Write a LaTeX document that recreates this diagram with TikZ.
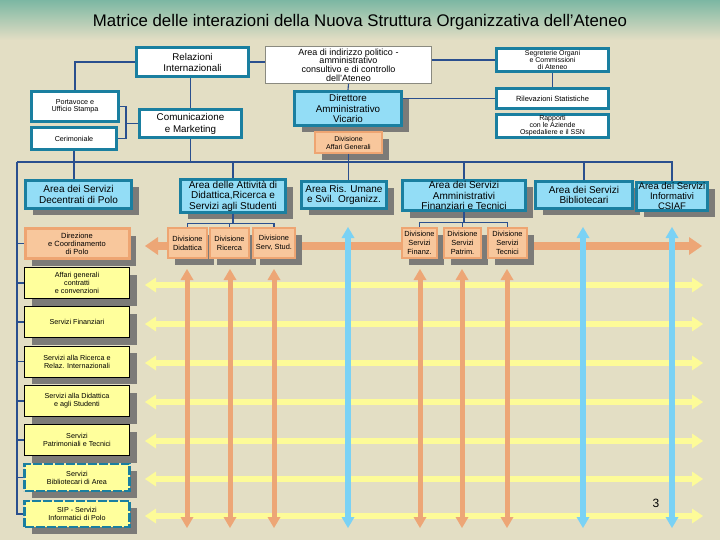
\documentclass[tikz,border=0pt]{standalone}
\usepackage{fontspec}
\setmainfont{Liberation Sans}
\usetikzlibrary{arrows.meta,calc,shadows}
\definecolor{MtBeige}{HTML}{E3DEC4}
\definecolor{MtTealTop}{HTML}{7CB7A3}
\definecolor{MtTeal}{HTML}{1A7FA0}
\definecolor{MtSky}{HTML}{93DDF6}
\definecolor{MtOrange}{HTML}{F8C79C}
\definecolor{MtOrangeEdge}{HTML}{EEA572}
\definecolor{MtArrowOr}{HTML}{EDA676}
\definecolor{MtYellow}{HTML}{FFFF9C}
\definecolor{MtArrowYe}{HTML}{FDFB98}
\definecolor{MtArrowBl}{HTML}{7AD2F5}
\definecolor{MtShadow}{HTML}{7C7B78}
\definecolor{MtWire}{HTML}{2A4F8E}
\definecolor{MtThin}{HTML}{8A8A80}
\tikzset{
  wire/.style={draw=MtWire,line width=1.1pt},
  shadowed/.style={drop shadow={shadow xshift=7pt,shadow yshift=-7pt,fill=MtShadow,opacity=1}},
  office/.style={draw=MtTeal,line width=3pt,fill=white,align=center,inner sep=1pt,text=black},
  board/.style={draw=MtThin,line width=0.9pt,fill=white,align=center,inner sep=1pt},
  areabox/.style={office,fill=MtSky,shadowed,font=\fontsize{10}{10.5}\selectfont},
  divbox/.style={draw=MtOrangeEdge,line width=2pt,fill=MtOrange,align=center,inner sep=0.5pt,
                 shadowed,font=\fontsize{7.4}{9}\selectfont},
  polobox/.style={draw=black,line width=0.8pt,fill=MtYellow,align=center,inner sep=1pt,
                  shadowed,minimum width=105pt,font=\fontsize{7.2}{8}\selectfont},
  polodash/.style={polobox,draw=MtTeal,line width=2.4pt,dash pattern=on 9pt off 2pt},
  yflow/.style={{Triangle[length=11pt,width=15pt,line width=0pt]}-{Triangle[length=11pt,width=15pt,line width=0pt]},
                draw=MtArrowYe,line width=6pt},
  oflow/.style={{Triangle[length=11pt,width=13pt,line width=0pt]}-{Triangle[length=11pt,width=13pt,line width=0pt]},
                draw=MtArrowOr,line width=5pt},
  bflow/.style={oflow,draw=MtArrowBl,line width=6pt},
  obig/.style={{Triangle[length=13pt,width=18pt,line width=0pt]}-{Triangle[length=13pt,width=18pt,line width=0pt]},
               draw=MtArrowOr,line width=8pt},
}

\begin{document}
\begin{tikzpicture}[x=1pt,y=-1pt]
  \useasboundingbox (0,0) rectangle (720,540);
  \fill[MtBeige] (0,0) rectangle (720,540);
  \shade[top color=MtTealTop,bottom color=MtBeige] (0,0) rectangle (720,40);
  \node[font=\fontsize{16.8}{19}\selectfont] (title) at (360,22)
    {Matrice delle interazioni della Nuova Struttura Organizzativa dell’Ateneo};

  % the matrix of interactions
  \coordinate (oL) at (145,246); \coordinate (oR) at (702,246);
  \draw[obig] (oL) -- (oR);
  \foreach \y [count=\i] in {285,324,363,402,441,479,516} {
    \coordinate (yl\i) at (145,\y); \coordinate (yr\i) at (703,\y);
    \draw[yflow] (yl\i) -- (yr\i);
  }
  \foreach \x [count=\i] in {187,230,274,420,462,507} {
    \coordinate (ot\i) at (\x,269); \coordinate (ob\i) at (\x,528);
    \draw[oflow] (ot\i) -- (ob\i);
  }
  \foreach \x [count=\i] in {348,583,672} {
    \coordinate (bt\i) at (\x,227); \coordinate (bb\i) at (\x,528);
    \draw[bflow] (bt\i) -- (bb\i);
  }

  % top offices
  \node[office,minimum width=112pt,minimum height=29pt,font=\fontsize{9.8}{11}\selectfont] (rel) at (192.5,62)
    {Relazioni\\Internazionali};
  \node[board,minimum width=166pt,minimum height=37pt,font=\fontsize{9}{8.6}\selectfont] (ind) at (348.5,65)
    {Area di indirizzo politico -\\amministrativo\\consultivo e di controllo\\dell'Ateneo};
  \node[office,minimum width=112pt,minimum height=23pt,font=\fontsize{7}{7}\selectfont] (seg) at (552.5,60)
    {Segreterie Organi\\e Commissioni\\di Ateneo};
  \node[office,minimum width=87pt,minimum height=30pt,font=\fontsize{7.2}{7.5}\selectfont] (port) at (75,106.5)
    {Portavoce e\\Ufficio Stampa};
  \node[office,minimum width=85pt,minimum height=22pt,font=\fontsize{7.2}{8}\selectfont] (cer) at (74,138.5)
    {Cerimoniale};
  \node[office,minimum width=102pt,minimum height=28pt,font=\fontsize{9.8}{12}\selectfont] (com) at (190.5,123.5)
    {Comunicazione\\e Marketing};
  \node[office,fill=MtSky,shadowed,minimum width=107pt,minimum height=34pt,font=\fontsize{9.8}{10.5}\selectfont]
    (dir) at (348,108.5) {Direttore\\Amministrativo\\Vicario};
  \node[divbox,minimum width=67pt,minimum height=21pt,font=\fontsize{7}{8}\selectfont]
    (affgen) at (348.5,142.5) {Divisione\\Affari Generali};
  \node[office,minimum width=112pt,minimum height=20pt,font=\fontsize{7.5}{8}\selectfont] (ril) at (552.5,98.5)
    {Rilevazioni Statistiche};
  \node[office,minimum width=112pt,minimum height=23pt,font=\fontsize{7}{7}\selectfont] (rap) at (552.5,126)
    {Rapporti\\con le Aziende\\Ospedaliere e il SSN};

  % areas
  \node[areabox,minimum width=106pt,minimum height=28pt] (dec) at (78.5,194.5)
    {Area dei Servizi\\Decentrati di Polo};
  \node[areabox,minimum width=105pt,minimum height=29pt] (did) at (233,196)
    {Area delle Attività di\\Didattica,Ricerca e\\Servizi agli Studenti};
  \node[areabox,minimum width=85pt,minimum height=27pt] (risu) at (344,195)
    {Area Ris. Umane\\e Svil. Organizz.};
  \node[areabox,minimum width=123pt,minimum height=28pt] (amm) at (464,195.5)
    {Area dei Servizi\\Amministrativi\\Finanziari e Tecnici};
  \node[areabox,minimum width=97pt,minimum height=27pt] (bib) at (584,195)
    {Area dei Servizi\\Bibliotecari};
  \node[areabox,minimum width=71pt,minimum height=28pt,inner sep=0pt,font=\fontsize{9.5}{10}\selectfont]
    (inf) at (672,196.5) {Area dei Servizi\\Informativi\\CSIAF};

  % divisions
  \node[divbox,minimum width=39pt,minimum height=30pt] (divdid) at (187.5,243) {Divisione\\Didattica};
  \node[divbox,minimum width=39pt,minimum height=30pt] (divric) at (229.5,243) {Divisione\\Ricerca};
  \node[divbox,minimum width=42pt,minimum height=30pt] (divstu) at (274,243) {Divisione\\Serv, Stud.};
  \node[divbox,minimum width=35pt,minimum height=30pt] (divfin) at (419.5,243) {Divisione\\Servizi\\Finanz.};
  \node[divbox,minimum width=37pt,minimum height=30pt] (divpat) at (462.5,243) {Divisione\\Servizi\\Patrim.};
  \node[divbox,minimum width=39pt,minimum height=30pt] (divtec) at (507.5,243) {Divisione\\Servizi\\Tecnici};

  % polo column
  \node[divbox,line width=3pt,minimum width=104pt,minimum height=30pt,font=\fontsize{7.5}{8}\selectfont]
    (direz) at (77,243.5) {Direzione\\e Coordinamento\\di Polo};
  \node[polobox,minimum height=31pt] (polo1) at (77,283) {Affari generali\\contratti\\e convenzioni};
  \node[polobox,minimum height=31pt] (polo2) at (77,322) {Servizi Finanziari};
  \node[polobox,minimum height=31pt] (polo3) at (77,361.5) {Servizi alla Ricerca e\\Relaz. Internazionali};
  \node[polobox,minimum height=31pt] (polo4) at (77,401) {Servizi alla Didattica\\e agli Studenti};
  \node[polobox,minimum height=31pt] (polo5) at (77,440) {Servizi\\Patrimoniali e Tecnici};
  \node[polodash,minimum height=27pt] (polo6) at (77,477.5) {Servizi\\Bibliotecari di Area};
  \node[polodash,minimum height=26pt] (polo7) at (77,514) {SIP - Servizi\\Informatici di Polo};

  \node[font=\fontsize{12}{14}\selectfont] (pagenum) at (656,503) {3};

  % wiring
  \coordinate (busL) at (17,162);
  \coordinate (brk) at ($(com.west)+(-12,0)$);
  \draw[wire] (rel.west) -| (port.north);
  \draw[wire] (cer.south) -- (cer.south |- dec.north);
  \draw[wire] (rel.east) -- (rel.east -| ind.west);
  \draw[wire] (seg.west -| ind.east) -- (seg.west);
  \draw[wire] (com.north |- rel.south) -- (com.north);
  \draw[wire] (port.east) -| (brk) |- (cer.east);
  \draw[wire] (brk) -- (com.west);
  \draw[wire] (ind.south) -- (dir.north);
  \draw[wire] (ril.west -| dir.east) -- (ril.west);
  \draw[wire] (seg.south) -- (ril.north);
  \draw[wire] (com.south) -- (com.south |- busL);
  \draw[wire] (busL) -- (busL -| inf.north) -- (inf.north);
  \draw[wire] (affgen.south) -- (affgen.south |- risu.north);
  \foreach \n in {did,amm,bib}
    \draw[wire] (\n.north |- busL) -- (\n.north);
  \draw[wire] (busL) |- (polo7.west);
  \foreach \n in {direz,polo1,polo2,polo3,polo4,polo5,polo6}
    \draw[wire] (\n.west -| busL) -- (\n.west);
  \draw[wire] (did.south) -- ++(0,10) coordinate (didfork);
  \foreach \n in {divdid,divric,divstu}
    \draw[wire] (didfork) -| (\n.north);
  \draw[wire] (amm.south) -- ++(0,10) coordinate (ammfork);
  \foreach \n in {divfin,divpat,divtec}
    \draw[wire] (ammfork) -| (\n.north);
\end{tikzpicture}
\end{document}
